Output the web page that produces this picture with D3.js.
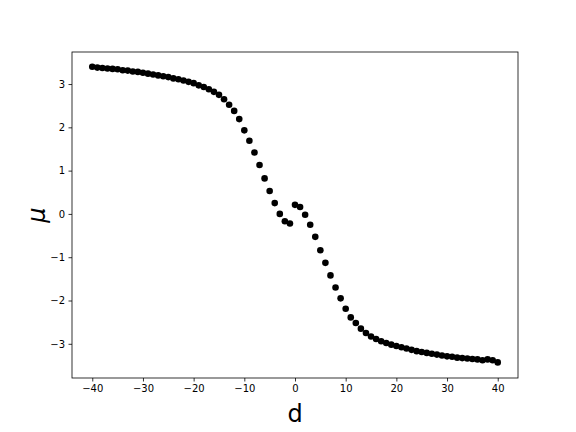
<!DOCTYPE html>
<html>
<head>
<meta charset="utf-8">
<script src="https://cdn.jsdelivr.net/npm/d3@7"></script>
<style>
	body { margin: 0; background: #fff; }
	svg { display: block; font-family: "DejaVu Sans", sans-serif; }
</style>
</head>
<body>
<svg id="chart" width="576" height="432"></svg>
<script>
// distance values (left half, then right half)
var dLeft = d3.range(-40, 0);
var dRight = d3.range(0, 41);

// mu for d = -40 .. -1
var muLeft = [3.40, 3.38, 3.37, 3.36, 3.35, 3.34, 3.32, 3.31, 3.29, 3.28,
	3.26, 3.24, 3.22, 3.20, 3.18, 3.16, 3.13, 3.11, 3.08, 3.05,
	3.02, 2.97, 2.93, 2.88, 2.82, 2.75, 2.65, 2.52, 2.38, 2.19,
	1.93, 1.69, 1.42, 1.13, 0.82, 0.53, 0.25, 0.00, -0.17, -0.22];
// mu for d = 0 .. 40
var muRight = [0.21, 0.16, -0.02, -0.25, -0.53, -0.84, -1.13, -1.42, -1.70, -1.95,
	-2.19, -2.39, -2.52, -2.65, -2.75, -2.83, -2.89, -2.94, -2.98, -3.02,
	-3.05, -3.08, -3.11, -3.14, -3.17, -3.19, -3.21, -3.23, -3.25, -3.27,
	-3.29, -3.30, -3.32, -3.33, -3.34, -3.35, -3.36, -3.38, -3.36, -3.38,
	-3.43];

var xTicks = [-40, -30, -20, -10, 0, 10, 20, 30, 40];
var yTicks = [-3, -2, -1, 0, 1, 2, 3];

var svg = d3.select("#chart");
var plotLeft = 72, plotRight = 518, plotTop = 52, plotBottom = 378;

var x = d3.scaleLinear().domain([-44, 44]).range([plotLeft, plotRight]);
var y = d3.scaleLinear().domain([-3.79, 3.74]).range([plotBottom, plotTop]);

var points = dLeft.map(function(d, i){ return {d: d, mu: muLeft[i]}; })
	.concat(dRight.map(function(d, i){ return {d: d, mu: muRight[i]}; }));

var fmt = function(v){ return String(v).replace("-", "\u2212"); };

// axes
var xAxis = svg.append("g")
	.attr("transform", "translate(0," + plotBottom + ")")
	.call(d3.axisBottom(x).tickValues(xTicks).tickSize(3.5).tickPadding(3.5).tickFormat(fmt));
var yAxis = svg.append("g")
	.attr("transform", "translate(" + plotLeft + ",0)")
	.call(d3.axisLeft(y).tickValues(yTicks).tickSize(3.5).tickPadding(3.5).tickFormat(fmt));

[xAxis, yAxis].forEach(function(a){
	a.select(".domain").remove();
	a.selectAll("line").attr("stroke", "#000").attr("stroke-width", 0.8);
	a.selectAll("text").attr("fill", "#000").style("font-size", "10px").style("font-family", "DejaVu Sans");
});

// frame
svg.append("rect")
	.attr("x", plotLeft).attr("y", plotTop)
	.attr("width", plotRight - plotLeft).attr("height", plotBottom - plotTop)
	.attr("fill", "none").attr("stroke", "#000").attr("stroke-width", 0.8);

// points
svg.append("g")
	.selectAll("circle")
	.data(points)
	.enter().append("circle")
	.attr("cx", function(p){ return x(p.d); })
	.attr("cy", function(p){ return y(p.mu); })
	.attr("r", 3.3)
	.attr("fill", "#000");

// labels
svg.append("text")
	.attr("x", (plotLeft + plotRight) / 2).attr("y", 422)
	.attr("text-anchor", "middle")
	.style("font-size", "24px")
	.text("d");

svg.append("text")
	.attr("transform", "translate(45," + ((plotTop + plotBottom) / 2) + ") rotate(-90)")
	.attr("text-anchor", "middle")
	.style("font-size", "24px")
	.style("font-style", "italic")
	.text("\u03bc");
</script>
</body>
</html>
